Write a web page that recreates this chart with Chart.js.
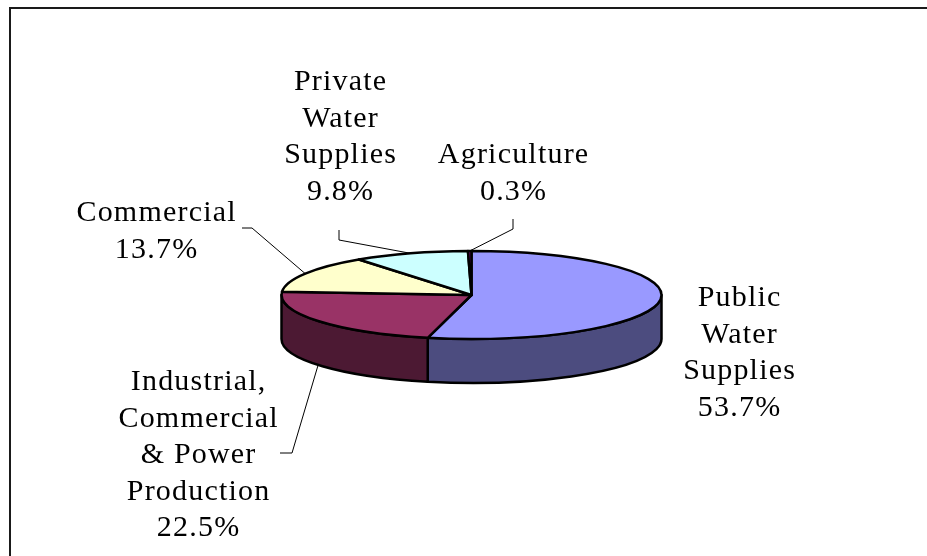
<!DOCTYPE html>
<html><head><meta charset="utf-8">
<script src="https://cdn.jsdelivr.net/npm/chart.js@4/dist/chart.umd.min.js"></script>
<style>html,body{margin:0;padding:0;background:#fff;overflow:hidden}</style>
</head><body>
<canvas id="c" width="927" height="556"></canvas>
<script>
// ---- data ----
const categories = ["Public\nWater\nSupplies", "Industrial,\nCommercial\n& Power\nProduction", "Commercial", "Private\nWater\nSupplies", "Agriculture"];
const shares = [53.7, 22.5, 13.7, 9.8, 0.3];
const topColors = ["#9999FF", "#993366", "#FFFFCC", "#CCFFFF", "#660066"];
const sideColors = ["#4C4C7F", "#4C1933", "#7F7F66", "#667F7F", "#330033"];

// ---- layout (label placement, not data) ----
const labelLayout = [
  {x: 739, y: 306, leader: null},
  {x: 198, y: 390, leader: [[292, 453], [280, 453]]},
  {x: 156, y: 221, leader: [[252, 228], [242, 228]]},
  {x: 340, y: 90,  leader: [[339, 240], [339, 230]]},
  {x: 513, y: 163, leader: [[513, 229], [513, 219]]}
];
const TILT = 44 / 190;   // vertical squash of the pie
const DEPTH = 44;        // thickness of the pie
const LINE_H = 36.5;
const SPACING = 1.2;

function arcGeom(arc) {
  return arc.getProps(['x','y','outerRadius','startAngle','endAngle'], true);
}

const pie3d = {
  id: 'pie3d',
  beforeDraw(chart) {
    const ctx = chart.ctx;
    ctx.save();
    ctx.fillStyle = '#fff';
    ctx.fillRect(0, 0, chart.width, chart.height);
    ctx.strokeStyle = '#1a1a1a';
    ctx.lineWidth = 2;
    ctx.strokeRect(10, 8, 960, 600);
    ctx.restore();
  },
  beforeDatasetsDraw(chart) {
    const ctx = chart.ctx;
    const meta = chart.getDatasetMeta(0);
    ctx.save();
    ctx.lineWidth = 2.5;
    ctx.strokeStyle = '#000';
    ctx.lineJoin = 'round';
    // sides (front half only: canvas angles 0..PI)
    meta.data.forEach((arc, i) => {
      const {x: cx, y: cy, outerRadius: R, startAngle: s, endAngle: e} = arcGeom(arc);
      const ry = R * TILT;
      const a = Math.max(s, 0), b = Math.min(e, Math.PI);
      if (b <= a) return;
      ctx.beginPath();
      ctx.ellipse(cx, cy, R, ry, 0, a, b, false);
      ctx.lineTo(cx + R * Math.cos(b), cy + ry * Math.sin(b) + DEPTH);
      ctx.ellipse(cx, cy + DEPTH, R, ry, 0, b, a, true);
      ctx.closePath();
      ctx.fillStyle = sideColors[i];
      ctx.fill();
      ctx.stroke();
    });
    // top faces
    meta.data.forEach((arc, i) => {
      const {x: cx, y: cy, outerRadius: R, startAngle: s, endAngle: e} = arcGeom(arc);
      const ry = R * TILT;
      ctx.beginPath();
      ctx.moveTo(cx, cy);
      ctx.ellipse(cx, cy, R, ry, 0, s, e, false);
      ctx.closePath();
      ctx.fillStyle = topColors[i];
      ctx.fill();
      ctx.stroke();
    });
    ctx.restore();
    return false;
  },
  afterDraw(chart) {
    const ctx = chart.ctx;
    const meta = chart.getDatasetMeta(0);
    ctx.save();
    // leader lines
    ctx.strokeStyle = '#000';
    ctx.lineWidth = 1;
    meta.data.forEach((arc, i) => {
      const L = labelLayout[i];
      if (!L.leader) return;
      const {x: cx, y: cy, outerRadius: R, startAngle: s, endAngle: e} = arcGeom(arc);
      const m = (s + e) / 2;
      const ry = R * TILT;
      const px = cx + R * Math.cos(m);
      const py = cy + ry * Math.sin(m) + (Math.sin(m) > 0 ? DEPTH : 0);
      ctx.beginPath();
      ctx.moveTo(px, py);
      L.leader.forEach(p => ctx.lineTo(p[0], p[1]));
      ctx.stroke();
    });
    // labels
    ctx.fillStyle = '#000';
    ctx.font = '30px "Liberation Serif", "Times New Roman", serif';
    ctx.textAlign = 'center';
    ctx.textBaseline = 'alphabetic';
    try { ctx.letterSpacing = SPACING + 'px'; } catch (e) {}
    categories.forEach((name, i) => {
      const lines = name.split('\n').concat([shares[i].toFixed(1) + '%']);
      const L = labelLayout[i];
      lines.forEach((t, j) => ctx.fillText(t, L.x + SPACING / 2, L.y + j * LINE_H));
    });
    ctx.restore();
  }
};

new Chart(document.getElementById('c'), {
  type: 'pie',
  data: {
    labels: categories.map(c => c.replace(/\n/g, ' ')),
    datasets: [{data: shares, backgroundColor: topColors, borderColor: '#000', borderWidth: 2}]
  },
  options: {
    responsive: false,
    animation: false,
    events: [],
    radius: 190,
    layout: {padding: {left: 281, right: 265, top: 105, bottom: 71}},
    plugins: {legend: {display: false}, tooltip: {enabled: false}}
  },
  plugins: [pie3d]
});
</script>
</body></html>
